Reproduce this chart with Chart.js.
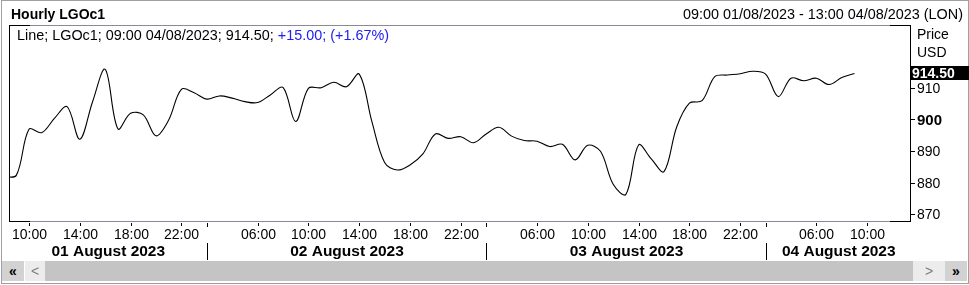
<!DOCTYPE html>
<html>
<head>
<meta charset="utf-8">
<title>Hourly LGOc1</title>
<script src="https://cdn.jsdelivr.net/npm/chart.js@4.4.0/dist/chart.umd.min.js"></script>
<style>
  html, body { margin: 0; padding: 0; background: #fff; }
  body { width: 969px; height: 285px; position: relative; overflow: hidden;
         font-family: Arial, "Liberation Sans", sans-serif; font-size: 14px; color: #000; }
  #outer { position: absolute; left: 1px; top: 0; width: 966px; height: 282px; border: 1px solid #a0a0a0; }
  #chart { position: absolute; left: 0; top: 0; }
  .txt { position: absolute; line-height: 16px; white-space: nowrap; }
  #title { left: 11px; top: 6px; font-weight: bold; }
  #range { right: 6px; top: 6px; font-size: 14.4px; }
  #legend { left: 17px; top: 27px; font-size: 14.4px; }
  #legend .chg { color: #2020f0; }
  #yname { left: 917px; top: 26px; }
  #yunit { left: 917px; top: 44px; }
  /* scrollbar strip */
  .sb { position: absolute; top: 261px; height: 20px; font-size: 14px; line-height: 20px; text-align: center; }
  #sbFirst { left: 2px; width: 22px; background: #d2d2d2; font-weight: bold; }
  #sbPrev { left: 25px; width: 20px; background: #ececec; color: #808080; }
  #sbTrack { left: 45px; width: 868px; background: #c4c4c4; }
  #sbNext { left: 913px; width: 32px; background: #ececec; color: #808080; }
  #sbLast { left: 945px; width: 22px; background: #d2d2d2; font-weight: bold; }
</style>
</head>
<body>
<div id="outer"></div>
<canvas id="chart" width="969" height="285"></canvas>
<div class="txt" id="title">Hourly LGOc1</div>
<div class="txt" id="range">09:00 01/08/2023 - 13:00 04/08/2023 (LON)</div>
<div class="txt" id="legend">Line; LGOc1; 09:00 04/08/2023; 914.50; <span class="chg">+15.00; (+1.67%)</span></div>
<div class="txt" id="yname">Price</div>
<div class="txt" id="yunit">USD</div>
<div class="sb" id="sbFirst">&laquo;</div>
<div class="sb" id="sbPrev">&lt;</div>
<div class="sb" id="sbTrack"></div>
<div class="sb" id="sbNext">&gt;</div>
<div class="sb" id="sbLast">&raquo;</div>

<script>
// ---- hours on the axis (ICE session, 02:00-23:00 London) ----
const aug1Hours = ["08:00", "09:00", "10:00", "11:00", "12:00", "13:00", "14:00", "15:00",
  "16:00", "17:00", "18:00", "19:00", "20:00", "21:00", "22:00", "23:00"];
const sessionHours = ["02:00", "03:00", "04:00", "05:00", "06:00", "07:00", "08:00", "09:00",
  "10:00", "11:00", "12:00", "13:00", "14:00", "15:00", "16:00", "17:00", "18:00", "19:00",
  "20:00", "21:00", "22:00", "23:00"];

// ---- hourly prices ----
const aug1Prices = [881.9, 882.3, 896.9, 895.8, 900.3, 904.0, 893.7, 905.5,
  915.8, 897.0, 901.9, 901.4, 894.8, 899.8, 909.5, 908.4];
const aug2Prices = [906.4, 907.4, 906.7, 905.6, 905.3, 907.7, 910.1, 899.3, 909.8, 910.0, 911.7,
  910.3, 914.3, 899.3, 886.4, 884.0, 885.6, 889.0, 895.4, 894.0, 894.5, 892.6];
const aug3Prices = [895.4, 897.5, 894.7, 893.3, 893.1, 891.4, 892.1, 887.2, 891.8, 889.9, 879.5,
  876.3, 891.9, 887.5, 883.5, 897.6, 905.1, 905.9, 913.5, 914.0, 914.4, 915.2];
const aug4Prices = [914.3, 907.2, 913.0, 912.2, 913.0, 911.0, 913.2, 914.5];

// ---- axis labels ----
const dayNames = ["01 August 2023", "02 August 2023", "03 August 2023", "04 August 2023"];
const aug1Ticks = ["10:00", "14:00", "18:00", "22:00"];
const midTicks = ["06:00", "10:00", "14:00", "18:00", "22:00"];
const aug4Ticks = ["06:00", "10:00"];
const yTicks = [870, 880, 890, 900, 910];

const dayAxisHours = [aug1Hours, sessionHours, sessionHours, sessionHours];
const dayPrices = [aug1Prices, aug2Prices, aug3Prices, aug4Prices];
const dayTicks = [aug1Ticks, midTicks, midTicks, aug4Ticks];

// position of the first bar of each day
const dayStart = [];
let pos = 0;
dayAxisHours.forEach(h => { dayStart.push(pos); pos += h.length; });

const points = [];
dayPrices.forEach((arr, d) => arr.forEach((v, k) => points.push({ x: dayStart[d] + k, y: v })));
const lastPrice = aug4Prices[aug4Prices.length - 1];

const FONT = 'Arial, "Liberation Sans", sans-serif';

const decor = {
  id: "decor",
  afterDraw(chart) {
    const { ctx, chartArea: a } = chart;
    const xs = chart.scales.x, ys = chart.scales.y;
    ctx.save();
    ctx.lineWidth = 1;

    const seg = (x1, y1, x2, y2, col) => {
      ctx.strokeStyle = col;
      ctx.beginPath(); ctx.moveTo(x1, y1); ctx.lineTo(x2, y2); ctx.stroke();
    };

    // frame: grey top/bottom with black ends, black sides
    const top = a.top + 0.5, bot = a.bottom - 0.5, lx = a.left + 0.5, rx = a.right - 0.5;
    [top, bot].forEach(yy => {
      seg(a.left + 21, yy, a.right - 21, yy, "#8a8a96");
      seg(a.left, yy, a.left + 21, yy, "#000");
      seg(a.right - 21, yy, a.right, yy, "#000");
    });
    seg(lx, a.top, lx, a.bottom, "#000");
    seg(rx, a.top, rx, a.bottom, "#000");

    // y ticks on the right
    ctx.fillStyle = "#000";
    ctx.textBaseline = "middle";
    ctx.textAlign = "left";
    yTicks.forEach(v => {
      const py = Math.round(ys.getPixelForValue(v)) + 0.5;
      seg(a.right, py, a.right + 4, py, "#000");
      ctx.font = (v === 900 ? "bold 15px " : "14px ") + FONT;
      ctx.fillText(String(v), a.right + 6, py + 1);
    });

    // last value tag
    const ly = Math.round(ys.getPixelForValue(lastPrice));
    ctx.fillStyle = "#000";
    ctx.fillRect(a.right, ly - 7, 969 - a.right, 14);
    ctx.fillStyle = "#fff";
    ctx.font = "bold 14px " + FONT;
    ctx.fillText(lastPrice.toFixed(2), a.right + 1, ly + 1);

    // x ticks, hour labels, day separators and day names
    ctx.fillStyle = "#000";
    ctx.textAlign = "center";
    const seps = dayStart.slice(1).map(s => Math.round(xs.getPixelForValue(s)) + 0.5);
    dayTicks.forEach((list, d) => {
      list.forEach(h => {
        const px = Math.round(xs.getPixelForValue(dayStart[d] + dayAxisHours[d].indexOf(h))) + 0.5;
        seg(px, a.bottom + 1, px, a.bottom + 4, "#000");
        ctx.font = "14px " + FONT;
        ctx.fillText(h, px, a.bottom + 13);
      });
    });
    seps.forEach(px => {
      seg(px, a.bottom + 1, px, a.bottom + 5, "#000");
      seg(px, a.bottom + 21, px, a.bottom + 38, "#000");
    });
    const bounds = [a.left].concat(seps, [a.right]);
    ctx.font = "bold 15.5px " + FONT;
    dayNames.forEach((n, d) => {
      ctx.fillText(n, (bounds[d] + bounds[d + 1]) / 2, a.bottom + 30);
    });

    ctx.restore();
  }
};

new Chart(document.getElementById("chart"), {
  type: "line",
  data: {
    datasets: [{
      data: points,
      borderColor: "#000",
      borderWidth: 1.1,
      pointRadius: 0,
      tension: 0.35,
      fill: false
    }]
  },
  options: {
    responsive: false,
    animation: false,
    events: [],
    layout: { padding: { left: 9, top: 25, right: 58, bottom: 63 } },
    plugins: { legend: { display: false }, tooltip: { enabled: false } },
    scales: {
      x: { type: "linear", display: false, min: 0.425, max: 71.45 },
      y: { type: "linear", display: false, min: 867.57, max: 929.81 }
    }
  },
  plugins: [decor]
});
</script>
</body>
</html>
